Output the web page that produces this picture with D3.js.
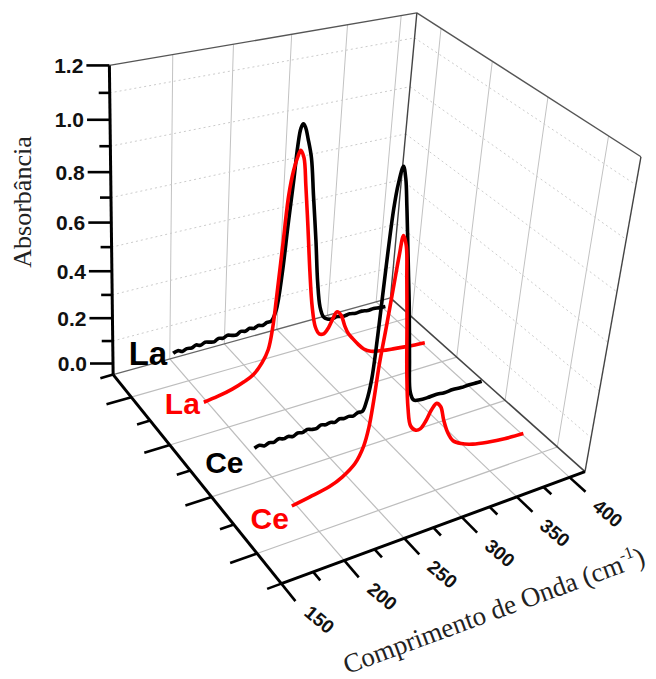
<!DOCTYPE html>
<html><head><meta charset="utf-8">
<script src="https://cdn.jsdelivr.net/npm/d3@7"></script>
<style>body{margin:0;background:#fff}</style>
</head><body>
<svg id="c" width="656" height="679"></svg>
<script>
// ---------------- DATA ----------------
const xTicksMajor = [150, 200, 250, 300, 350, 400];
const xTicksAll = [150, 175, 200, 225, 250, 275, 300, 325, 350, 375, 400];
const yTickValues = [0.0, 0.1, 0.2, 0.3, 0.4, 0.5, 0.6, 0.7, 0.8, 0.9, 1.0, 1.1, 1.2];
const yTickLabels = ["0.0", "0.2", "0.4", "0.6", "0.8", "1.0", "1.2"];
const zTickValues = [0.5, 1, 1.5, 2, 2.5, 3, 3.5, 4, 4.5];
const yGridValues = [0.1, 0.3, 0.5, 0.7, 0.9, 1.1];
const zGridValues = [1, 2, 3, 4];
const xGridValues = [200, 250, 300, 350, 400];

const seriesLabels = ["La", "La", "Ce", "Ce"];
const seriesDepth = [1, 2, 3, 4];

const laBlackX = [186,190,194,198,202,206,210,214,218,222,226,230,234,238,242,246,250,254,258,262,266,270,274,
  278,282,285,288,290,292,294,296,299,303,307,312,316,320,324,328,
  332,338,344,350,356,362,368,374,380,386];
const laBlackY = [0.093,0.099,0.090,0.097,0.094,0.102,0.095,0.103,0.098,0.094,0.104,0.099,0.107,0.101,0.097,0.108,0.103,0.111,0.105,0.113,0.108,0.116,0.117,
  0.16,0.32,0.52,0.70,0.84,0.91,0.925,0.91,0.86,0.78,0.62,0.42,0.24,0.12,0.07,0.055,
  0.05,0.053,0.047,0.05,0.045,0.047,0.042,0.044,0.040,0.038];

const laRedX = [178,190,202,212,220,227,232,235,237,240,243,246,249,251,254,257,261,265,269,273,277,281,285,289,292,296,300,304,308,314,320,327,338,350,360,370,380];
const laRedY = [0.092,0.10,0.113,0.13,0.15,0.19,0.24,0.33,0.45,0.65,0.85,0.94,0.99,1.01,0.98,0.87,0.70,0.52,0.37,0.28,0.245,0.24,0.26,0.30,0.32,0.30,0.25,0.21,0.185,0.15,0.12,0.10,0.088,0.08,0.074,0.069,0.065];

const ceBlackX = [184,188,192,196,200,204,208,212,216,220,224,228,232,236,240,244,248,252,256,260,264,268,272,276,
  279,282,284,286,288,290,293,296,299,302,306,310,315,319,323,329,
  336,344,352,360,368,376,384,388];
const ceBlackY = [0.100,0.106,0.097,0.104,0.099,0.108,0.101,0.105,0.098,0.107,0.102,0.109,0.103,0.100,0.110,0.104,0.108,0.102,0.111,0.106,0.109,0.104,0.113,0.112,
  0.15,0.24,0.42,0.70,0.91,1.0,1.06,1.01,0.91,0.80,0.65,0.50,0.28,0.13,0.09,0.082,
  0.081,0.083,0.079,0.081,0.078,0.079,0.077,0.077];

const ceRedX = [176,190,206,216,226,232,235,237,239,242,245,247,249,252,255,259,263,267,271,276,280,284,288,292,296,300,305,311,319,330,345,360,378];
const ceRedY = [0.10,0.112,0.128,0.15,0.19,0.25,0.32,0.42,0.56,0.70,0.85,0.95,1.02,0.98,0.86,0.68,0.49,0.35,0.27,0.245,0.245,0.27,0.31,0.33,0.31,0.25,0.19,0.145,0.12,0.10,0.085,0.075,0.069];

// ---------------- LAYOUT: perspective calibration (data x, y, z -> screen px) ----------------
const calib = [
  [150,-0.05,0.5,112,373],[415,-0.05,0.5,386,297],[150,-0.05,4.5,283,585],[415,-0.05,4.5,585,470],
  [150,1.2,0.5,111,63],[415,1.2,0.5,422,14],[415,1.2,4.5,640,155],
  [150,1.0,0.5,111,121.7],[150,0.6,0.5,111.5,221.7],[150,0.2,0.5,112,316.7],[150,0.0,0.5,112,360],
  [200,-0.05,4.5,343,562],[250,-0.05,4.5,403,539],[300,-0.05,4.5,460,518],[350,-0.05,4.5,517,496],[400,-0.05,4.5,570,476],
  [150,-0.05,1,133.8,400],[150,-0.05,2,171.7,447],[150,-0.05,3,212.8,498],[150,-0.05,4,256.4,552],
  [415,-0.05,1,413,317],[415,-0.05,2,458,357],[415,-0.05,3,507,407],[415,-0.05,4,557,443],
  [200,1.2,0.5,171,54],[250,1.2,0.5,231,45],[300,1.2,0.5,289,36]
];

const X0 = 150, X1 = 415, Y0 = -0.05, Y1 = 1.2, Z0 = 0.5, Z1 = 4.5;
const xS = d3.scaleLinear().domain([X0, X1]).range([0, 1]);
const yS = d3.scaleLinear().domain([Y0, Y1]).range([0, 1]);
const zS = d3.scaleLinear().domain([Z0, Z1]).range([0, 1]);

function solve(A, b) {
  const n = b.length;
  const M = A.map((r, i) => [...r, b[i]]);
  for (let c = 0; c < n; c++) {
    let piv = c;
    for (let r = c + 1; r < n; r++) if (Math.abs(M[r][c]) > Math.abs(M[piv][c])) piv = r;
    [M[c], M[piv]] = [M[piv], M[c]];
    for (let r = 0; r < n; r++) {
      if (r === c) continue;
      const f = M[r][c] / M[c][c];
      for (let k = c; k <= n; k++) M[r][k] -= f * M[c][k];
    }
  }
  return M.map((r, i) => r[n] / r[i]);
}
const rows = [], rhs = [];
calib.forEach(([x, y, z, sx, sy]) => {
  const u = xS(x), v = yS(y), w = zS(z), a = sx / 100, b = sy / 100;
  rows.push([u, v, w, 1, 0, 0, 0, 0, -a * u, -a * v, -a * w]); rhs.push(a);
  rows.push([0, 0, 0, 0, u, v, w, 1, -b * u, -b * v, -b * w]); rhs.push(b);
});
const N = 11;
const NM = Array.from({length: N}, () => Array(N).fill(0)), NR = Array(N).fill(0);
rows.forEach((row, k) => {
  for (let i = 0; i < N; i++) {
    NR[i] += row[i] * rhs[k];
    for (let j = 0; j < N; j++) NM[i][j] += row[i] * row[j];
  }
});
const p = solve(NM, NR);
function P(x, y, z) {
  const u = xS(x), v = yS(y), w = zS(z);
  const d = p[8] * u + p[9] * v + p[10] * w + 1;
  return [100 * (p[0] * u + p[1] * v + p[2] * w + p[3]) / d, 100 * (p[4] * u + p[5] * v + p[6] * w + p[7]) / d];
}

// ---------------- DRAW ----------------
const svg = d3.select("#c");
function seg(g, a, b, stroke, width, dash) {
  const l = g.append("line").attr("x1", a[0]).attr("y1", a[1]).attr("x2", b[0]).attr("y2", b[1])
    .attr("stroke", stroke).attr("stroke-width", width).attr("stroke-linecap", "butt");
  if (dash) l.attr("stroke-dasharray", dash);
  return l;
}
const grid = svg.append("g");
// back wall
xGridValues.forEach(x => seg(grid, P(x, Y0, Z0), P(x, Y1, Z0), "#c2c2c2", 1));
yGridValues.forEach(y => seg(grid, P(X0, y, Z0), P(X1, y, Z0), "#cccccc", 1, "2,3"));
// right wall
zGridValues.forEach(z => seg(grid, P(X1, Y0, z), P(X1, Y1, z), "#c2c2c2", 1));
yGridValues.forEach(y => seg(grid, P(X1, y, Z0), P(X1, y, Z1), "#cccccc", 1, "2,3"));
// floor
xGridValues.forEach(x => seg(grid, P(x, Y0, Z0), P(x, Y0, Z1), "#bdbdbd", 1.2));
zGridValues.forEach(z => seg(grid, P(X0, Y0, z), P(X1, Y0, z), "#bdbdbd", 1.2));
// box edges
seg(grid, P(X0, Y1, Z0), P(X1, Y1, Z0), "#555", 1.4);
seg(grid, P(X1, Y1, Z0), P(X1, Y1, Z1), "#555", 1.4);
seg(grid, P(X1, Y0, Z0), P(X1, Y1, Z0), "#444", 1.4);
seg(grid, P(X1, Y0, Z1), P(X1, Y1, Z1), "#444", 1.4);
seg(grid, P(X0, Y0, Z0), P(X1, Y0, Z0), "#666", 1.4);
seg(grid, P(X1, Y0, Z0), P(X1, Y0, Z1), "#444", 1.6);

// series (back to front)
const seriesX = [laBlackX, laRedX, ceBlackX, ceRedX];
const seriesY = [laBlackY, laRedY, ceBlackY, ceRedY];
const seriesColor = ["#000", "#ff0000", "#000", "#ff0000"];
const labelOffset = [[-6, 12], [-4, 12], [-11, 25], [-3, 23]];
const labelSize = [33, 30, 30, 30];
const line = d3.line().curve(d3.curveCatmullRom.alpha(0.5));
const sg = svg.append("g");
seriesX.forEach((xs, i) => {
  const pts = xs.map((x, k) => P(x, seriesY[i][k], seriesDepth[i]));
  sg.append("path").attr("d", line(pts)).attr("fill", "none")
    .attr("stroke", seriesColor[i]).attr("stroke-width", 3.6).attr("stroke-linejoin", "round");
  sg.append("text").attr("x", pts[0][0] + labelOffset[i][0]).attr("y", pts[0][1] + labelOffset[i][1])
    .attr("text-anchor", "end").attr("font-family", "Liberation Sans, Arial, sans-serif")
    .attr("font-weight", "bold").attr("font-size", labelSize[i]).attr("fill", seriesColor[i]).text(seriesLabels[i]);
});

// axes
const ax = svg.append("g");
seg(ax, P(X0, Y0, Z0), P(X0, Y1, Z0), "#000", 3);
seg(ax, P(X0, Y0, Z0), P(X0, Y0, Z1), "#000", 3);
seg(ax, P(X0, Y0, Z1), P(X1, Y0, Z1), "#000", 3);
// y ticks
yTickValues.forEach((y, i) => {
  const a = P(X0, y, Z0), major = i % 2 === 0;
  seg(ax, a, [a[0] - (major ? 23 : 11), a[1]], "#000", 2.6);
  if (major) ax.append("text").attr("x", a[0] - 26).attr("y", a[1] + 7.5).attr("text-anchor", "end")
    .attr("font-family", "Liberation Sans, Arial, sans-serif").attr("font-weight", "bold")
    .attr("font-size", 21).attr("fill", "#111").text(yTickLabels[i / 2]);
});
// depth ticks
zTickValues.forEach(z => {
  const major = Number.isInteger(z);
  seg(ax, P(X0, Y0, z), P(X0 - (major ? 21 : 11), Y0, z), "#000", 2.6);
});
// x ticks
xTicksAll.forEach(x => {
  const major = xTicksMajor.includes(x);
  seg(ax, P(x, Y0, Z1), P(x, Y0, Z1 + (major ? 0.28 : 0.14)), "#000", 2.6);
});
xTicksMajor.forEach(x => {
  const a = P(x, Y0, Z1);
  ax.append("text").attr("transform", `translate(${a[0] + 38},${a[1] + 36}) rotate(40)`)
    .attr("text-anchor", "middle").attr("dominant-baseline", "central")
    .attr("font-family", "Liberation Sans, Arial, sans-serif").attr("font-weight", "bold")
    .attr("font-size", 19).attr("fill", "#111").text(String(x));
});
// axis titles
svg.append("text").attr("transform", "translate(31,202) rotate(-90)").attr("text-anchor", "middle")
  .attr("font-family", "Liberation Serif, Times New Roman, serif").attr("font-size", 26).attr("fill", "#222")
  .text("Absorbância");
const fa = P(X0, Y0, Z1), fb = P(X1, Y0, Z1);
const ang = Math.atan2(fb[1] - fa[1], fb[0] - fa[0]) * 180 / Math.PI;
const xt = svg.append("text").attr("transform", `translate(497,619) rotate(${ang})`).attr("text-anchor", "middle")
  .attr("font-family", "Liberation Serif, Times New Roman, serif").attr("font-size", 27).attr("fill", "#222");
xt.append("tspan").text("Comprimento de Onda (cm");
xt.append("tspan").attr("font-size", 17).attr("dy", -11).text("-1");
xt.append("tspan").attr("dy", 11).text(")");
</script>
</body></html>
